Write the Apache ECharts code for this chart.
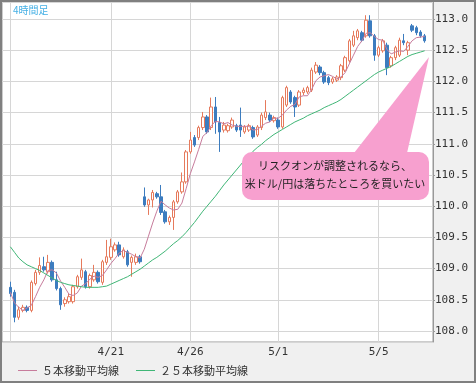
<!DOCTYPE html>
<html><head><meta charset="utf-8">
<script src="https://cdn.jsdelivr.net/npm/echarts@6/dist/echarts.min.js"></script>
<style>html,body{margin:0;padding:0;background:#f0f0f0}#c{width:476px;height:383px}</style>
</head><body><div id="c"></div><script>
// [open, close, low, high] per 4-hour bar
const candles = [
[108.70,108.60,108.55,108.79],[108.62,108.22,108.14,108.66],[108.22,108.34,108.18,108.39],[108.33,108.38,108.30,108.42],[108.38,108.33,108.30,108.41],
[108.33,108.78,108.30,108.81],[108.76,108.94,108.73,108.98],[108.94,109.05,108.90,109.18],[109.03,108.98,108.95,109.19],[108.95,109.10,108.92,109.22],
[109.10,108.82,108.79,109.13],[108.82,108.68,108.65,108.95],[108.68,108.42,108.34,108.71],[108.44,108.50,108.39,108.54],[108.47,108.55,108.44,108.60],
[108.47,108.71,108.44,108.74],[108.71,108.87,108.68,108.90],[108.86,108.98,108.82,109.16],[108.95,108.71,108.68,108.98],[108.71,108.89,108.68,108.92],
[108.82,108.94,108.79,109.06],[108.94,108.79,108.76,108.97],[108.78,109.11,108.74,109.14],[109.10,109.19,109.06,109.46],[109.18,109.35,109.14,109.48],
[109.30,109.38,109.27,109.42],[109.38,109.22,109.19,109.43],[109.19,109.30,109.16,109.34],[109.27,109.06,109.03,109.30],[109.10,109.18,108.87,109.21],
[109.10,109.19,109.06,109.24],[109.19,109.11,109.08,109.22],[110.15,110.02,109.99,110.30],[110.02,110.10,109.86,110.12],[110.10,110.22,109.98,110.26],
[110.20,110.15,110.12,110.23],[110.15,109.90,109.86,110.34],[109.91,109.75,109.72,109.94],[109.75,109.82,109.70,109.85],[109.82,110.07,109.62,110.10],
[110.07,110.23,110.04,110.26],[110.23,110.39,110.20,110.54],[110.39,110.87,110.36,110.90],[110.87,111.06,110.84,111.19],[111.10,110.98,110.95,111.14],
[111.10,111.26,111.06,111.29],[111.26,111.43,111.22,111.51],[111.43,111.19,111.16,111.46],[111.26,111.59,111.22,111.74],[111.59,111.35,111.16,111.75],
[111.34,111.19,110.87,111.43],[111.22,111.30,111.18,111.35],[111.21,111.29,111.18,111.32],[111.27,111.38,111.24,111.42],[111.29,111.22,111.19,111.32],
[111.30,111.22,111.11,111.58],[111.19,111.27,111.16,111.30],[111.22,111.29,111.19,111.32],[111.26,111.11,111.08,111.29],[111.14,111.27,111.11,111.30],
[111.26,111.46,111.22,111.50],[111.42,111.51,111.38,111.70],[111.46,111.38,111.35,111.50],[111.37,111.42,111.34,111.45],[111.38,111.27,111.24,111.42],
[111.27,111.74,111.24,111.77],[111.62,111.90,111.59,111.93],[111.83,111.67,111.64,111.86],[111.74,111.59,111.43,111.77],[111.62,111.83,111.59,111.86],
[111.82,111.86,111.78,111.90],[111.83,111.90,111.80,111.93],[111.86,112.18,111.83,112.22],[112.15,112.26,112.12,112.31],[112.23,112.14,112.10,112.26],
[112.14,111.99,111.96,112.17],[112.06,111.98,111.94,112.09],[111.99,112.04,111.96,112.07],[112.02,112.07,111.99,112.10],[112.06,112.25,112.02,112.28],
[112.18,112.38,112.15,112.41],[112.33,112.65,112.30,112.68],[112.58,112.73,112.55,112.81],[112.70,112.81,112.66,112.84],[112.78,112.66,112.63,112.81],
[112.73,112.98,112.70,113.06],[112.97,112.73,112.70,113.06],[112.73,112.42,112.33,112.76],[112.42,112.54,112.39,112.57],[112.49,112.65,112.46,112.68],
[112.58,112.22,112.10,112.62],[112.25,112.38,112.22,112.41],[112.38,112.54,112.34,112.57],[112.42,112.66,112.39,112.70],[112.65,112.62,112.58,112.76],
[112.50,112.62,112.42,112.65],[112.89,112.82,112.79,112.92],[112.86,112.78,112.74,112.89],[112.79,112.73,112.70,112.82],[112.73,112.65,112.62,112.76]
];
const ma5 = [
108.62,108.45,108.38,108.33,108.37,108.41,108.55,108.70,108.82,108.97,
108.98,108.93,108.80,108.70,108.59,108.57,108.61,108.72,108.76,108.83,
108.88,108.86,108.89,108.98,109.08,109.16,109.25,109.29,109.26,109.23,
109.19,109.17,109.31,109.52,109.73,109.92,110.08,110.02,109.97,109.94,
109.95,110.05,110.28,110.52,110.71,110.91,111.12,111.18,111.29,111.36,
111.35,111.32,111.34,111.30,111.28,111.28,111.28,111.28,111.22,111.23,
111.28,111.33,111.35,111.41,111.41,111.46,111.54,111.60,111.63,111.75,
111.77,111.77,111.87,112.01,112.07,112.09,112.11,112.08,112.04,112.07,
112.14,112.28,112.42,112.56,112.65,112.77,112.78,112.72,112.67,112.66,
112.51,112.44,112.47,112.49,112.48,112.56,112.65,112.70,112.71,112.72
];
const ma25 = [
109.35,109.26,109.17,109.11,109.06,109.03,109.00,108.97,108.93,108.89,
108.85,108.81,108.78,108.76,108.74,108.73,108.72,108.71,108.70,108.70,
108.70,108.70,108.71,108.72,108.75,108.78,108.81,108.84,108.87,108.91,
108.95,108.99,109.04,109.09,109.14,109.18,109.23,109.28,109.34,109.40,
109.45,109.51,109.58,109.66,109.74,109.83,109.92,110.00,110.08,110.16,
110.25,110.34,110.42,110.50,110.58,110.66,110.74,110.81,110.88,110.94,
110.99,111.05,111.10,111.15,111.19,111.23,111.27,111.31,111.35,111.38,
111.41,111.45,111.48,111.51,111.54,111.58,111.61,111.64,111.67,111.71,
111.76,111.81,111.86,111.91,111.96,112.01,112.06,112.11,112.15,112.18,
112.21,112.24,112.28,112.32,112.36,112.40,112.43,112.45,112.47,112.49
];
const tickBars = [0, 24, 43, 64, 88];
const tickLabels = ['', '4/21', '4/26', '5/1', '5/5'];
const legendNames = ['５本移動平均線', '２５本移動平均線'];
const titleText = '4時間足';
const noteLines = ['リスクオンが調整されるなら、', '米ドル/円は落ちたところを買いたい'];

const PAD = 2;
const cats = [];
for (let i = 0; i < candles.length + 2 * PAD; i++) cats.push('c' + i);
const padArr = new Array(PAD).fill('-');
const lblMap = {};
tickBars.forEach((b, k) => { lblMap[b + PAD] = tickLabels[k]; });
const isTick = (i) => Object.prototype.hasOwnProperty.call(lblMap, i);

const UP = '#e67a5c', DOWN = '#3c7cbf', PINK = '#f7a0cf';
const CJK = '"Noto Sans CJK JP"', MONO = '"DejaVu Sans Mono"';

const chart = echarts.init(document.getElementById('c'), null, {renderer: 'canvas'});
chart.setOption({
  backgroundColor: '#f0f0f0',
  animation: false,
  grid: {left: 2, right: 43, top: 2, bottom: 41, show: true, backgroundColor: '#ffffff', borderColor: '#999999', borderWidth: 1},
  legend: {
    data: legendNames, left: 13, top: 360, itemWidth: 19, itemHeight: 1, itemGap: 17, icon: 'rect',
    textStyle: {fontSize: 11, color: '#333', fontFamily: CJK}
  },
  xAxis: {
    type: 'category', data: cats, boundaryGap: false,
    axisLine: {show: false}, axisTick: {show: false},
    axisLabel: {interval: (i) => isTick(i), formatter: (v, i) => lblMap[i] || '', margin: 5,
      fontSize: 11, fontFamily: MONO, color: '#333'},
    splitLine: {show: true, interval: (i) => isTick(i), lineStyle: {color: '#d6d6d6', width: 1}}
  },
  yAxis: {
    type: 'value', position: 'right', min: 107.824, max: 113.272, splitNumber: 10, scale: true,
    axisLine: {show: true, lineStyle: {color: '#999'}},
    axisTick: {show: true, length: 2, lineStyle: {color: '#999'}},
    axisLabel: {formatter: (v) => v.toFixed(1), showMinLabel: false, showMaxLabel: false, margin: 2,
      fontSize: 11, fontFamily: MONO, color: '#333'},
    splitLine: {show: true, lineStyle: {color: '#d6d6d6', width: 1}}
  },
  series: [
    {type: 'candlestick', data: padArr.concat(candles, padArr), barWidth: 3,
     itemStyle: {color: '#ffffff', color0: DOWN, borderColor: UP, borderColor0: DOWN, borderWidth: 1}},
    {name: legendNames[0], type: 'line', data: padArr.concat(ma5, padArr), symbol: 'none', showSymbol: false,
     lineStyle: {color: '#c77c9c', width: 1}, itemStyle: {color: '#c77c9c'}},
    {name: legendNames[1], type: 'line', data: padArr.concat(ma25, padArr), symbol: 'none', showSymbol: false,
     lineStyle: {color: '#3fb676', width: 1}, itemStyle: {color: '#3fb676'}}
  ],
  graphic: [
    {type: 'polygon', z: 100, shape: {points: [[354, 153], [407, 153], [429, 57]]}, style: {fill: PINK}},
    {type: 'rect', z: 100, shape: {x: 242, y: 152, width: 187, height: 48, r: 10}, style: {fill: PINK}},
    {type: 'text', z: 101, x: 335, y: 166, style: {text: noteLines[0], font: '11px ' + CJK, fill: '#222', align: 'center', verticalAlign: 'middle'}},
    {type: 'text', z: 101, x: 335, y: 184, style: {text: noteLines[1], font: '11px ' + CJK, fill: '#222', align: 'center', verticalAlign: 'middle'}},
    {type: 'text', z: 101, x: 13, y: 10, style: {text: titleText, font: '10px ' + CJK, fill: '#45b0e5', verticalAlign: 'middle'}},
    {type: 'rect', z: 102, shape: {x: 1, y: 1, width: 474, height: 381}, style: {fill: 'none', stroke: '#808080', lineWidth: 2}}
  ]
});
</script></body></html>
